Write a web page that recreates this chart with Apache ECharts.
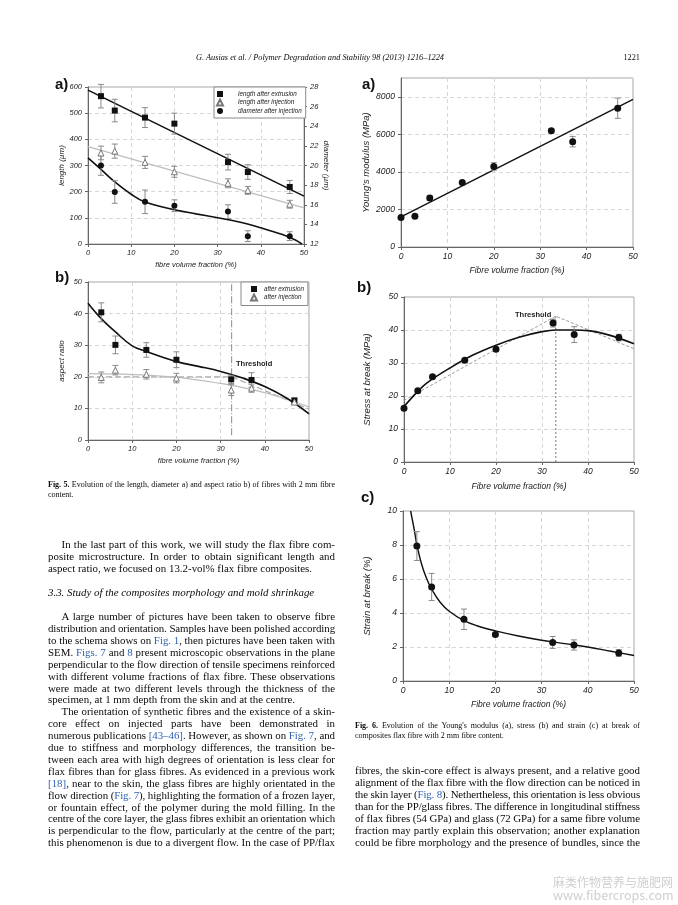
<!DOCTYPE html>
<html><head><meta charset="utf-8">
<script src="https://cdn.jsdelivr.net/npm/echarts@6/dist/echarts.min.js"></script>
<style>
html,body{margin:0;padding:0;background:#fff;}
#page{position:relative;width:678px;height:905px;overflow:hidden;background:#fff;}
#chart{position:absolute;left:0;top:0;width:678px;height:905px;}
.ln{position:absolute;white-space:nowrap;font-family:"Liberation Serif","Times New Roman",serif;color:#0a0a0a;}
.lk{color:#2f62b0;}
.wm{position:absolute;white-space:nowrap;color:#cfcfcf;font-family:"Noto Sans CJK SC","Noto Sans",sans-serif;}
</style></head>
<body><div id="page"><div id="chart"></div></div>
<script>
// ---------------- DATA ----------------
// Fig. 5 a) length / diameter
const vf5 = [3, 6.2, 13.2, 20, 32.4, 37, 46.7];
const lenExtr = [565, 510, 483, 460, 313, 275, 218];
const lenExtrErr = [45, 43, 38, 40, 30, 28, 25];
const lenInj = [348, 355, 312, 276, 232, 205, 152];
const lenInjErr = [26, 27, 23, 21, 17, 15, 15];
const diamInj = [20.0, 17.3, 16.3, 15.9, 15.3, 12.8, 12.8];
const diamInjErr = [1.0, 1.15, 1.2, 0.6, 0.7, 0.55, 0.45];
const fitX5 = [0, 50];
const lenExtrFit = [588, 183];
const lenInjFit = [372, 138];
const diamFitX = [0, 3, 6, 10, 13.2, 20, 25, 30, 35, 40, 45, 48, 49.5];
const diamFitY = [20.77, 19.6, 18.4, 17.07, 16.27, 15.49, 15.07, 14.67, 14.24, 13.65, 12.96, 12.4, 12.0];
// Fig. 5 b) aspect ratio
const arExtr = [40.4, 30.1, 28.5, 25.4, 19.2, 19.0, 12.5];
const arExtrErr = [3.0, 2.8, 2.3, 2.5, 1.3, 2.3, 0.8];
const arInj = [19.8, 22.1, 20.8, 19.6, 15.8, 16.4, 12.0];
const arInjErr = [1.7, 1.5, 1.5, 1.5, 1.7, 1.3, 0.8];
const arExtrFitX = [0, 3, 6.2, 10, 13.2, 20, 25, 30, 35, 40, 45, 50];
const arExtrFitY = [43.3, 38.4, 34.2, 29.8, 28.0, 24.8, 23.3, 21.7, 19.6, 16.9, 13.2, 8.3];
const arInjFitX = [0, 10, 20, 30, 35, 40, 45, 50];
const arInjFitY = [21.0, 20.7, 19.8, 17.9, 16.6, 15.0, 12.9, 10.5];
const arDashX = [0, 32.5, 50];
const arDashY = [20, 20, 9.8];
const thr5X = [32.5, 32.5];
const thr5Y = [1.5, 49.5];
// Fig. 6
const vf6 = [0, 3, 6.2, 13.2, 20, 32.4, 37, 46.7];
const modulus = [1575, 1640, 2610, 3440, 4290, 6190, 5610, 7390];
const modulusErr = [60, 50, 120, 80, 200, 110, 280, 540];
const modFitX = [0, 50];
const modFitY = [1600, 7860];
const stress = [16.3, 21.6, 25.8, 30.8, 34.2, 42.1, 38.6, 37.7];
const stressErr = [0.5, 0.6, 0.5, 0.4, 0.6, 1.2, 2.4, 1.0];
const stressFitX = [0, 3, 5, 10, 15, 20, 25, 30, 33, 37, 40, 45, 50];
const stressFitY = [16.8, 21.4, 24.0, 28.5, 32.4, 35.4, 37.8, 39.5, 40.0, 40.0, 39.8, 38.3, 35.8];
const stressBiX = [0, 33, 50];
const stressBiY = [18.7, 44.2, 34.3];
const thr6X = [33, 33];
const thr6Y = [0, 44.2];
const vf6c = [3, 6.2, 13.2, 20, 32.4, 37, 46.7];
const strain = [7.94, 5.53, 3.63, 2.73, 2.27, 2.12, 1.65];
const strainErr = [0.85, 0.8, 0.6, 0.1, 0.35, 0.3, 0.2];
const strainFitX = [1.65, 2.5, 3, 4, 5, 6.2, 8, 10, 13.2, 16, 20, 25, 30, 35, 40, 45, 50];
const strainFitY = [10, 8.8, 8.0, 6.9, 6.1, 5.4, 4.65, 4.1, 3.55, 3.25, 2.95, 2.65, 2.4, 2.2, 2.0, 1.75, 1.5];

// ---------------- HELPERS ----------------
const SANS = '"Liberation Sans", Arial, sans-serif';
const zip = (xs, ys) => xs.map((x, i) => [x, ys[i]]);
const zip3 = (xs, ys, es) => xs.map((x, i) => [x, ys[i], es[i]]);
const plain = v => String(v);

function xAx(gi, name, gap, fs, tfs) {
  return {type: 'value', gridIndex: gi, min: 0, max: 50, interval: 10,
    name: name, nameLocation: 'middle', nameGap: gap,
    nameTextStyle: {fontFamily: SANS, fontStyle: 'italic', fontSize: tfs, color: '#222'},
    axisLine: {show: true, onZero: false, lineStyle: {color: '#666', width: 1}},
    axisTick: {show: true, length: 3, lineStyle: {color: '#666'}},
    axisLabel: {fontFamily: SANS, fontStyle: 'italic', fontSize: fs, color: '#222', margin: 5, formatter: plain},
    splitLine: {show: true, lineStyle: {color: '#d6d6d6', type: [4, 3], width: 1}}};
}
function yAx(gi, min, max, iv, name, gap, fs, tfs, extra) {
  const a = {type: 'value', gridIndex: gi, min: min, max: max, interval: iv,
    name: name, nameLocation: 'middle', nameGap: gap,
    nameTextStyle: {fontFamily: SANS, fontStyle: 'italic', fontSize: tfs, color: '#222'},
    axisLine: {show: true, onZero: false, lineStyle: {color: '#666', width: 1}},
    axisTick: {show: true, length: 3, lineStyle: {color: '#666'}},
    axisLabel: {fontFamily: SANS, fontStyle: 'italic', fontSize: fs, color: '#222', margin: 6, formatter: plain},
    splitLine: {show: true, lineStyle: {color: '#d6d6d6', type: [4, 3], width: 1}}};
  return Object.assign(a, extra || {});
}
function errRender(cap) {
  return function (params, api) {
    const x = api.value(0), y = api.value(1), e = api.value(2);
    const p1 = api.coord([x, y + e]), p2 = api.coord([x, y - e]);
    const st = {stroke: '#8a8a8a', lineWidth: 1};
    return {type: 'group', children: [
      {type: 'line', shape: {x1: p1[0], y1: p1[1], x2: p2[0], y2: p2[1]}, style: st},
      {type: 'line', shape: {x1: p1[0] - cap, y1: p1[1], x2: p1[0] + cap, y2: p1[1]}, style: st},
      {type: 'line', shape: {x1: p2[0] - cap, y1: p2[1], x2: p2[0] + cap, y2: p2[1]}, style: st}
    ]};
  };
}
function errS(xi, yi, data) {
  return {type: 'custom', xAxisIndex: xi, yAxisIndex: yi, data: data, renderItem: errRender(3),
    encode: {x: 0, y: 1}, z: 3, silent: true, clip: false};
}
function lineS(xi, yi, data, color, width, type, smooth) {
  return {type: 'line', xAxisIndex: xi, yAxisIndex: yi, data: data, symbol: 'none', smooth: smooth || false,
    lineStyle: {color: color, width: width, type: type || 'solid'}, z: 2, silent: true};
}
function dotS(name, xi, yi, data, symbol, size, fill, border) {
  return {type: 'scatter', name: name, xAxisIndex: xi, yAxisIndex: yi, data: data, symbol: symbol, symbolSize: size,
    itemStyle: {color: fill, borderColor: border || fill, borderWidth: border ? 1 : 0, opacity: 1}, z: 4};
}
const frame = {show: true, borderColor: '#a5a5a5', borderWidth: 1, backgroundColor: 'transparent', containLabel: false};
function legendOf(left, top, padL, txtPad, names) {
  return {orient: 'vertical', left: left, top: top, itemWidth: 6, itemHeight: 6, itemGap: 1.5,
    padding: [4, 4, 4, padL], borderColor: '#8a8a8a', borderWidth: 1, backgroundColor: '#fff', borderRadius: 0,
    textStyle: {fontFamily: SANS, fontStyle: 'italic', fontSize: 6.3, color: '#222', padding: [0, 0, 0, txtPad]},
    data: names};
}

const option = {
  animation: false,
  grid: [
    Object.assign({left: 88, top: 87, width: 216, height: 157}, frame),
    Object.assign({left: 88, top: 282, width: 221, height: 158}, frame),
    Object.assign({left: 401, top: 78, width: 232, height: 169}, frame),
    Object.assign({left: 404, top: 297, width: 230, height: 165}, frame),
    Object.assign({left: 403, top: 511, width: 231, height: 170}, frame)
  ],
  xAxis: [
    xAx(0, 'fibre volume fraction (%)', 17, 7.5, 7.5),
    xAx(1, 'fibre volume fraction (%)', 17, 7.5, 7.5),
    xAx(2, 'Fibre volume fraction (%)', 19, 8.5, 8.5),
    xAx(3, 'Fibre volume fraction (%)', 20, 8.5, 8.5),
    xAx(4, 'Fibre volume fraction (%)', 19, 8.5, 8.5)
  ],
  yAxis: [
    yAx(0, 0, 600, 100, 'length (µm)', 22, 7.5, 8),
    yAx(0, 12, 28, 2, 'diameter (µm)', 17, 7.5, 8, {position: 'right', nameRotate: -90, splitLine: {show: false}}),
    yAx(1, 0, 50, 10, 'aspect ratio', 22, 7.5, 8),
    yAx(2, 0, 9000, 2000, "Young's modulus (MPa)", 30, 8.5, 9.5, {}),
    yAx(3, 0, 50, 10, 'Stress at break (MPa)', 32, 8.5, 9.5),
    yAx(4, 0, 10, 2, 'Strain at break (%)', 31, 8.5, 9.5)
  ],
  legend: [
    legendOf(214, 87, 2, 10, [{name: 'length after extrusion', icon: 'rect'}, {name: 'length after injection', icon: 'triangle'},
             {name: 'diameter after injection', icon: 'circle'}]),
    legendOf(241, 282, 9, 2, [{name: 'after extrusion', icon: 'rect'}, {name: 'after injection', icon: 'triangle'}])
  ],
  graphic: [
    {type: 'text', x: 55, y: 85, style: {text: 'a)', font: 'bold 15px ' + SANS, fill: '#111', verticalAlign: 'middle'}},
    {type: 'text', x: 55, y: 278, style: {text: 'b)', font: 'bold 15px ' + SANS, fill: '#111', verticalAlign: 'middle'}},
    {type: 'text', x: 362, y: 85, style: {text: 'a)', font: 'bold 15px ' + SANS, fill: '#111', verticalAlign: 'middle'}},
    {type: 'text', x: 357, y: 288, style: {text: 'b)', font: 'bold 15px ' + SANS, fill: '#111', verticalAlign: 'middle'}},
    {type: 'text', x: 361, y: 498, style: {text: 'c)', font: 'bold 15px ' + SANS, fill: '#111', verticalAlign: 'middle'}},
    {type: 'text', x: 236, y: 364, style: {text: 'Threshold', font: 'bold 7.5px ' + SANS, fill: '#222', verticalAlign: 'middle'}},
    {type: 'text', x: 515, y: 315, style: {text: 'Threshold', font: 'bold 7.5px ' + SANS, fill: '#222', verticalAlign: 'middle'}}
  ],
  series: [
    // Fig 5a
    lineS(0, 0, zip(fitX5, lenExtrFit), '#111', 1.6),
    lineS(0, 0, zip(fitX5, lenInjFit), '#bdbdbd', 1.3),
    lineS(0, 1, zip(diamFitX, diamFitY), '#111', 1.6, 'solid', 0.4),
    errS(0, 0, zip3(vf5, lenExtr, lenExtrErr)),
    errS(0, 0, zip3(vf5, lenInj, lenInjErr)),
    errS(0, 1, zip3(vf5, diamInj, diamInjErr)),
    dotS('length after extrusion', 0, 0, zip(vf5, lenExtr), 'rect', 6, '#111'),
    dotS('length after injection', 0, 0, zip(vf5, lenInj), 'triangle', 6, '#fff', '#777'),
    dotS('diameter after injection', 0, 1, zip(vf5, diamInj), 'circle', 6, '#111'),
    // Fig 5b
    lineS(1, 2, zip(thr5X, thr5Y), '#8a8a8a', 1, [7, 2, 1, 2]),
    lineS(1, 2, zip(arDashX, arDashY), '#aaaaaa', 1.2, [6, 3]),
    lineS(1, 2, zip(arInjFitX, arInjFitY), '#bdbdbd', 1.2, 'solid', 0.4),
    lineS(1, 2, zip(arExtrFitX, arExtrFitY), '#111', 1.6, 'solid', 0.4),
    errS(1, 2, zip3(vf5, arExtr, arExtrErr)),
    errS(1, 2, zip3(vf5, arInj, arInjErr)),
    dotS('after extrusion', 1, 2, zip(vf5, arExtr), 'rect', 6, '#111'),
    dotS('after injection', 1, 2, zip(vf5, arInj), 'triangle', 6, '#fff', '#777'),
    // Fig 6a
    lineS(2, 3, zip(modFitX, modFitY), '#111', 1.4),
    errS(2, 3, zip3(vf6, modulus, modulusErr)),
    dotS('modulus', 2, 3, zip(vf6, modulus), 'circle', 7, '#111'),
    // Fig 6b
    lineS(3, 4, zip(thr6X, thr6Y), '#777', 1, [2, 2]),
    lineS(3, 4, zip(stressBiX, stressBiY), '#9a9a9a', 1, [3, 2]),
    lineS(3, 4, zip(stressFitX, stressFitY), '#111', 1.6, 'solid', 0.4),
    errS(3, 4, zip3(vf6, stress, stressErr)),
    dotS('stress', 3, 4, zip(vf6, stress), 'circle', 7, '#111'),
    // Fig 6c
    lineS(4, 5, zip(strainFitX, strainFitY), '#111', 1.4, 'solid', 0.4),
    errS(4, 5, zip3(vf6c, strain, strainErr)),
    dotS('strain', 4, 5, zip(vf6c, strain), 'circle', 7, '#111')
  ]
};
option.yAxis[3].axisLabel.showMaxLabel = false;
const chart = echarts.init(document.getElementById('chart'), null, {renderer: 'canvas'});
chart.setOption(option);

// ---------------- PAGE TEXT ----------------
const page = document.getElementById('page');
function fmt(t) {
  return t.replace(/&/g, '&amp;').replace(/\*\*(.+?)\*\*/g, '<b>$1</b>').replace(/\{(.+?)\}/g, '<span class="lk">$1</span>');
}
function put(t, x, y, w, size, opts) {
  opts = opts || {};
  const d = document.createElement('div');
  d.className = 'ln';
  d.style.left = x + 'px';
  d.style.fontSize = size + 'px';
  d.style.lineHeight = (size * 1.2) + 'px';
  d.style.top = (y - size * 0.6) + 'px';
  if (opts.italic) d.style.fontStyle = 'italic';
  if (opts.center) { d.style.width = w + 'px'; d.style.textAlign = 'center'; }
  if (opts.right) { d.style.width = w + 'px'; d.style.textAlign = 'right'; }
  const s = document.createElement('span');
  s.innerHTML = fmt(t);
  d.appendChild(s);
  page.appendChild(d);
  if (opts.justify || opts.fit) {
    const nat = s.getBoundingClientRect().width;
    const sp = (s.textContent.match(/ /g) || []).length;
    if (nat > w) {
      s.style.letterSpacing = ((w - nat) / s.textContent.length) + 'px';
    } else if (opts.justify && sp) {
      s.style.wordSpacing = ((w - nat) / sp) + 'px';
    }
  }
}
put('G. Ausias et al. / Polymer Degradation and Stability 98 (2013) 1216–1224', 120, 58, 400, 8.3, {italic: true, center: true});
put('1221', 560, 58, 80, 8.3, {right: true});

// captions
const CF = 8;
put('**Fig. 5.** Evolution of the length, diameter a) and aspect ratio b) of fibres with 2 mm fibre', 48, 485, 287, CF, {justify: true});
put('content.', 48, 494.5, 287, CF);
put('**Fig. 6.** Evolution of the Young\'s modulus (a), stress (b) and strain (c) at break of', 355, 725.7, 285, CF, {justify: true});
put('composites flax fibre with 2 mm fibre content.', 355, 735.3, 285, CF);

// left column body
const LX = 48, LW = 287, IND = 13.5, LH = 11.9, FS = 10.9;
const leftLines = [
  [544.5, 'In the last part of this work, we will study the flax fibre com-', 'ij'],
  [0, 'posite microstructure. In order to obtain significant length and', 'j'],
  [0, 'aspect ratio, we focused on 13.2-vol% flax fibre composites.', 'f'],
  [592.3, '3.3. Study of the composites morphology and mold shrinkage', 'h'],
  [616.7, 'A large number of pictures have been taken to observe fibre', 'ij'],
  [0, 'distribution and orientation. Samples have been polished according', 'j'],
  [0, 'to the schema shows on {Fig. 1}, then pictures have been taken with', 'j'],
  [0, 'SEM. {Figs. 7} and {8} present microscopic observations in the plane', 'j'],
  [0, 'perpendicular to the flow direction of tensile specimens reinforced', 'j'],
  [0, 'with different volume fractions of flax fibre. These observations', 'j'],
  [0, 'were made at two different levels through the thickness of the', 'j'],
  [0, 'specimen, at 1 mm depth from the skin and at the centre.', 'f'],
  [0, 'The orientation of synthetic fibres and the existence of a skin-', 'ij'],
  [0, 'core effect on injected parts have been demonstrated in', 'j'],
  [0, 'numerous publications {[43–46]}. However, as shown on {Fig. 7}, and', 'j'],
  [0, 'due to stiffness and morphology differences, the transition be-', 'j'],
  [0, 'tween each area with high degrees of orientation is less clear for', 'j'],
  [0, 'flax fibres than for glass fibres. As evidenced in a previous work', 'j'],
  [0, '{[18]}, near to the skin, the glass fibres are highly orientated in the', 'j'],
  [0, 'flow direction ({Fig. 7}), highlighting the formation of a frozen layer,', 'j'],
  [0, 'or fountain effect, of the polymer during the mold filling. In the', 'j'],
  [0, 'centre of the core layer, the glass fibres exhibit an orientation which', 'j'],
  [0, 'is perpendicular to the flow, particularly at the centre of the part;', 'j'],
  [0, 'this phenomenon is due to a divergent flow. In the case of PP/flax', 'j']
];
let cy = 0;
leftLines.forEach(function (l) {
  cy = l[0] ? l[0] : cy + LH;
  const f = l[2];
  if (f === 'h') { put(l[1], LX, cy, LW, FS, {italic: true, fit: true}); return; }
  const ind = f.indexOf('i') >= 0 ? IND : 0;
  put(l[1], LX + ind, cy, LW - ind, FS, {justify: f.indexOf('j') >= 0, fit: true});
});
const rightLines = [
  'fibres, the skin-core effect is always present, and a relative good',
  'alignment of the flax fibre with the flow direction can be noticed in',
  'the skin layer ({Fig. 8}). Nethertheless, this orientation is less obvious',
  'than for the PP/glass fibres. The difference in longitudinal stiffness',
  'of flax fibres (54 GPa) and glass (72 GPa) for a same fibre volume',
  'fraction may partly explain this observation; another explanation',
  'could be fibre morphology and the presence of bundles, since the'
];
rightLines.forEach(function (t, i) { put(t, 355, 771 + i * LH, 285, FS, {justify: true}); });

// watermark
const w1 = document.createElement('div'); w1.className = 'wm';
w1.style.cssText += 'left:553px;top:873px;font-size:12px;letter-spacing:0px;';
w1.textContent = '麻类作物营养与施肥网'; page.appendChild(w1);
const w2 = document.createElement('div'); w2.className = 'wm';
w2.style.cssText += 'left:553px;top:885px;font-size:12.5px;';
w2.textContent = 'www.fibercrops.com'; page.appendChild(w2);
</script>
</body></html>
